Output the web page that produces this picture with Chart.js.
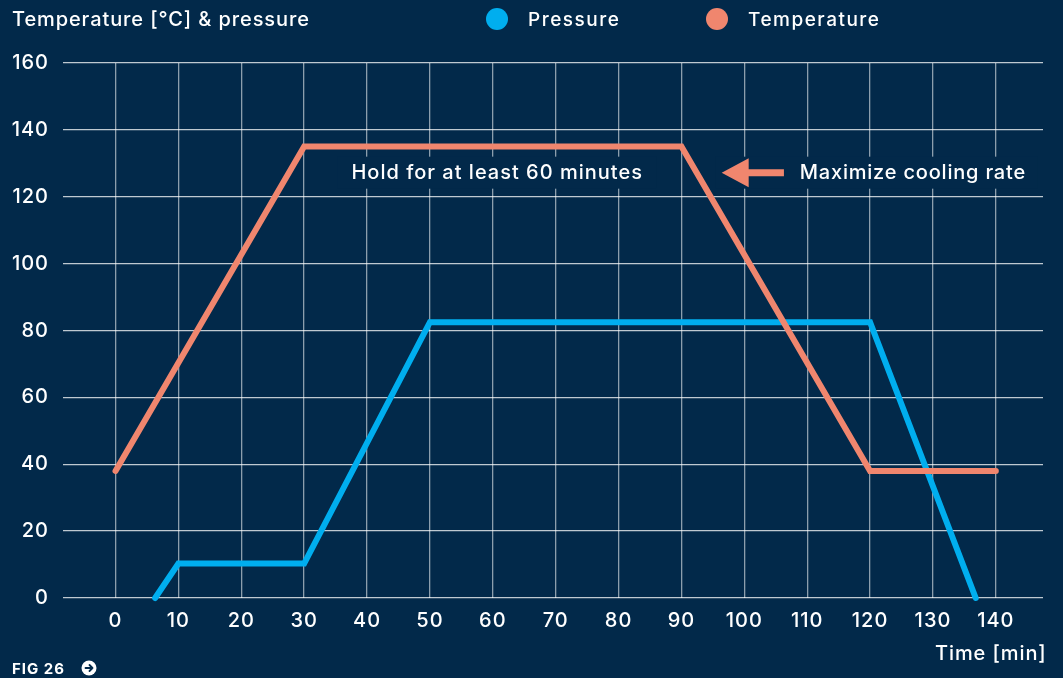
<!DOCTYPE html>
<html>
<head>
<meta charset="utf-8">
<script src="https://cdn.jsdelivr.net/npm/chart.js@4.4.1/dist/chart.umd.min.js"></script>
<style>
  html, body { margin: 0; padding: 0; background: #02294a; }
  #wrap { width: 1063px; height: 678px; position: relative; }
</style>
</head>
<body>
<div id="wrap"><canvas id="cureChart"></canvas></div>
<script>
// Data
const timeTicks = [0, 10, 20, 30, 40, 50, 60, 70, 80, 90, 100, 110, 120, 130, 140];
const valueTicks = [0, 20, 40, 60, 80, 100, 120, 140, 160];

const pressureTime = [6.3, 10, 30, 50, 120, 136.8];
const pressureValues = [0, 10.3, 10.3, 82.5, 82.5, 0];

const temperatureTime = [0, 30, 90, 120, 140];
const temperatureValues = [38, 135, 135, 38, 38];

const seriesNames = ['Pressure', 'Temperature'];
const chartTitle = 'Temperature [°C] & pressure';
const axisTitle = 'Time [min]';
const figLabel = 'FIG 26';
const holdNote = 'Hold for at least 60 minutes';
const coolNote = 'Maximize cooling rate';

const NAVY = '#02294a';
const BLUE = '#00aeef';
const ORANGE = '#f0866e';
const FONT = 'Inter, "Noto Sans", sans-serif';

function toPoints(xs, ys) {
    return xs.map((x, i) => ({ x: x, y: ys[i] }));
}

// Title, legend, notes and footer drawn on the canvas
const decorations = {
    id: 'decorations',
    beforeDraw(chart) {
        const ctx = chart.ctx;
        ctx.save();
        ctx.fillStyle = NAVY;
        ctx.fillRect(0, 0, chart.width, chart.height);
        ctx.restore();
        // wider tracking for the tick labels, like the original typeface
        ctx.letterSpacing = '1px';
    },
    afterDatasetsDraw(chart) {
        const ctx = chart.ctx;
        const xs = chart.scales.x;
        const ys = chart.scales.y;
        ctx.save();
        ctx.textBaseline = 'middle';
        ctx.fillStyle = '#ffffff';

        // title
        ctx.font = '500 20px ' + FONT;
        ctx.letterSpacing = '0.9px';
        ctx.textAlign = 'left';
        ctx.fillText(chartTitle, 12, 20);

        // legend
        const legend = [
            { name: seriesNames[0], color: BLUE, cx: 497 },
            { name: seriesNames[1], color: ORANGE, cx: 717 }
        ];
        legend.forEach(item => {
            ctx.fillStyle = item.color;
            ctx.beginPath();
            ctx.arc(item.cx, 19, 11, 0, Math.PI * 2);
            ctx.fill();
            ctx.fillStyle = '#ffffff';
            ctx.font = '500 19px ' + FONT;
            ctx.letterSpacing = '1.5px';
            ctx.fillText(item.name, item.cx + 31, 20);
        });

        // hold note
        const yNote = ys.getPixelForValue(127.2);
        ctx.font = '500 20px ' + FONT;
        ctx.letterSpacing = '1px';
        ctx.textAlign = 'center';
        const holdX = xs.getPixelForValue(60.7);
        const hw = ctx.measureText(holdNote).width;
        ctx.fillStyle = NAVY;
        ctx.fillRect(holdX - hw / 2 - 14, yNote - 16, hw + 28, 32);
        ctx.fillStyle = '#ffffff';
        ctx.fillText(holdNote, holdX, yNote);

        // cooling note with arrow
        ctx.letterSpacing = '0.8px';
        const tipX = xs.getPixelForValue(96.4);
        const tailX = xs.getPixelForValue(106.3);
        const coolX = xs.getPixelForValue(126.8);
        const cw = ctx.measureText(coolNote).width;
        ctx.fillStyle = NAVY;
        ctx.fillRect(tipX - 6, yNote - 16, coolX + cw / 2 + 12 - (tipX - 6), 32);
        ctx.fillStyle = ORANGE;
        ctx.beginPath();
        ctx.moveTo(tipX, yNote);
        ctx.lineTo(tipX + 27, yNote - 14.5);
        ctx.lineTo(tipX + 27, yNote - 3.5);
        ctx.lineTo(tailX, yNote - 3.5);
        ctx.lineTo(tailX, yNote + 3.5);
        ctx.lineTo(tipX + 27, yNote + 3.5);
        ctx.lineTo(tipX + 27, yNote + 14.5);
        ctx.closePath();
        ctx.fill();
        ctx.fillStyle = '#ffffff';
        ctx.fillText(coolNote, coolX, yNote);

        // axis title
        ctx.textAlign = 'left';
        ctx.font = '500 20px ' + FONT;
        ctx.letterSpacing = '0.9px';
        ctx.fillText(axisTitle, 935, 654);

        // footer
        ctx.font = 'bold 15px ' + FONT;
        ctx.letterSpacing = '1px';
        ctx.fillText(figLabel, 12, 669);
        ctx.beginPath();
        ctx.arc(89, 668, 7.5, 0, Math.PI * 2);
        ctx.fill();
        ctx.strokeStyle = NAVY;
        ctx.lineWidth = 1.8;
        ctx.lineCap = 'round';
        ctx.lineJoin = 'round';
        ctx.beginPath();
        ctx.moveTo(85.5, 668);
        ctx.lineTo(92.5, 668);
        ctx.moveTo(89.5, 665);
        ctx.lineTo(92.5, 668);
        ctx.lineTo(89.5, 671);
        ctx.stroke();

        ctx.restore();
    }
};

const ctx = document.getElementById('cureChart').getContext('2d');
new Chart(ctx, {
    type: 'line',
    data: {
        datasets: [
            {
                label: seriesNames[1],
                data: toPoints(temperatureTime, temperatureValues),
                borderColor: ORANGE,
                borderWidth: 6,
                borderJoinStyle: 'miter',
                borderCapStyle: 'round',
                pointRadius: 0,
                tension: 0,
                clip: false
            },
            {
                label: seriesNames[0],
                data: toPoints(pressureTime, pressureValues),
                borderColor: BLUE,
                borderWidth: 6,
                borderJoinStyle: 'miter',
                borderCapStyle: 'round',
                pointRadius: 0,
                tension: 0,
                clip: false
            }
        ]
    },
    options: {
        responsive: true,
        maintainAspectRatio: false,
        animation: false,
        layout: {
            padding: { top: 63, right: 20, left: 0, bottom: 0 }
        },
        scales: {
            x: {
                type: 'linear',
                min: -8.35,
                max: 147.5,
                afterBuildTicks: scale => {
                    scale.ticks = timeTicks.map(v => ({ value: v }));
                },
                afterFit: scale => {
                    scale.height = 80;
                },
                border: { display: false },
                grid: {
                    color: 'rgba(255, 255, 255, 0.55)',
                    lineWidth: 1.3,
                    drawTicks: false
                },
                ticks: {
                    color: '#ffffff',
                    padding: 11,
                    maxRotation: 0,
                    autoSkip: false,
                    font: { family: FONT, size: 20, weight: '500' }
                }
            },
            y: {
                min: 0,
                max: 160,
                afterBuildTicks: scale => {
                    scale.ticks = valueTicks.map(v => ({ value: v }));
                },
                afterFit: scale => {
                    scale.width = 63;
                },
                border: { display: false },
                grid: {
                    color: 'rgba(255, 255, 255, 0.75)',
                    lineWidth: 1.3,
                    drawTicks: false
                },
                ticks: {
                    color: '#ffffff',
                    padding: 14,
                    font: { family: FONT, size: 20, weight: '500' }
                }
            }
        },
        plugins: {
            legend: { display: false },
            title: { display: false },
            tooltip: { enabled: false }
        }
    },
    plugins: [decorations]
});
</script>
</body>
</html>
